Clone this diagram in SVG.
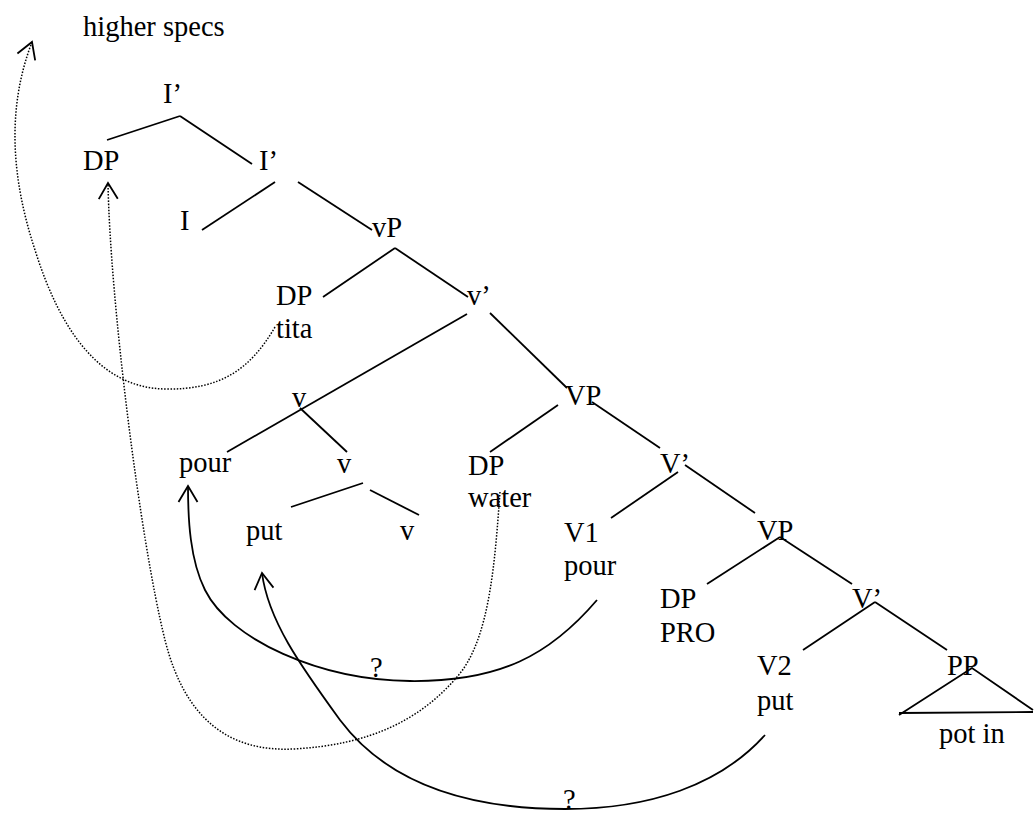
<svg xmlns="http://www.w3.org/2000/svg" width="1034" height="813" viewBox="0 0 1034 813">
<defs>
<style>
text{font-family:"Liberation Serif","Times New Roman",serif;font-size:28.5px;fill:#000}
.e{stroke:#000;stroke-width:1.8;fill:none;stroke-linecap:butt}
.mv{stroke:#000;stroke-width:1.8;fill:none}
.dot{stroke:#000;stroke-width:1.5;fill:none;stroke-dasharray:1.5 1.6}
</style>
<marker id="ah" viewBox="-18 -11 20 22" refX="0" refY="0" markerWidth="20" markerHeight="22" markerUnits="userSpaceOnUse" orient="auto" overflow="visible">
<path d="M -16,-9.5 L 0,0 L -16,9.5" fill="none" stroke="#000" stroke-width="1.8"/>
</marker>
</defs>
<rect width="1034" height="813" fill="#fff"/>
<g id="connectors">
<line class="e" x1="107" y1="140" x2="180" y2="116"/>
<line class="e" x1="180" y1="116" x2="252" y2="164"/>
<line class="e" x1="275" y1="182" x2="202" y2="230"/>
<line class="e" x1="298" y1="182" x2="372" y2="230"/>
<line class="e" x1="395" y1="248" x2="323" y2="297"/>
<line class="e" x1="395" y1="248" x2="468" y2="297"/>
<line class="e" x1="467" y1="314" x2="227" y2="452"/>
<line class="e" x1="490" y1="313" x2="567" y2="388"/>
<line class="e" x1="300" y1="408" x2="347" y2="452"/>
<line class="e" x1="363" y1="483" x2="291" y2="507"/>
<line class="e" x1="370" y1="490" x2="419" y2="515"/>
<line class="e" x1="558" y1="405" x2="490" y2="452"/>
<line class="e" x1="592" y1="402" x2="660" y2="448"/>
<line class="e" x1="678" y1="472" x2="611" y2="518"/>
<line class="e" x1="685" y1="465" x2="755" y2="513"/>
<line class="e" x1="780" y1="537" x2="707" y2="584"/>
<line class="e" x1="780" y1="537" x2="852" y2="584"/>
<line class="e" x1="875" y1="602" x2="803" y2="650"/>
<line class="e" x1="875" y1="602" x2="947" y2="650"/>
<path class="e" d="M 899,715 L 972,668 L 1033,710 M 899,713 L 1033,712"/>
<path class="dot" marker-end="url(#ah)" d="M 275,327 C 250,370 220,390 165,389 C 100,388 60,330 35,250 C 12,180 6,110 32,42"/>
<path class="dot" marker-end="url(#ah)" d="M 500,492 C 495,560 490,640 457,677 C 420,720 370,745 293,749 C 230,752 185,720 165,640 C 140,540 110,300 108,183"/>
<path class="mv" marker-end="url(#ah)" d="M 597,600 C 550,655 500,682 410,681 C 320,680 230,640 205,590 C 190,560 188,520 188,486"/>
<path class="mv" marker-end="url(#ah)" d="M 765,735 C 720,785 650,809 565,809 C 460,809 385,780 340,720 C 300,665 268,620 262,573"/>
</g>
<g id="n-higher"><text x="83" y="36">higher specs</text></g>
<g id="n-Ibar-top"><text x="163" y="103">I’</text></g>
<g id="n-DP-spec"><text x="83" y="170">DP</text></g>
<g id="n-Ibar"><text x="259" y="170">I’</text></g>
<g id="n-I"><text x="180" y="230">I</text></g>
<g id="n-vP"><text x="372" y="237">vP</text></g>
<g id="n-DP-tita"><text x="276" y="305">DP</text><text x="276" y="338">tita</text></g>
<g id="n-vbar"><text x="467" y="305">v’</text></g>
<g id="n-v-complex"><text x="292" y="407">v</text></g>
<g id="n-pour"><text x="179" y="472">pour</text></g>
<g id="n-v-mid"><text x="337" y="473">v</text></g>
<g id="n-put"><text x="246" y="540">put</text></g>
<g id="n-v-low"><text x="400" y="540">v</text></g>
<g id="n-DP-water"><text x="468" y="475">DP</text><text x="468" y="507">water</text></g>
<g id="n-VP1"><text x="565" y="405">VP</text></g>
<g id="n-Vbar1"><text x="660" y="473">V’</text></g>
<g id="n-V1"><text x="564" y="542">V1</text><text x="564" y="575">pour</text></g>
<g id="n-VP2"><text x="757" y="540">VP</text></g>
<g id="n-DP-PRO"><text x="660" y="608">DP</text><text x="660" y="642">PRO</text></g>
<g id="n-Vbar2"><text x="852" y="608">V’</text></g>
<g id="n-V2"><text x="757" y="675">V2</text><text x="757" y="710">put</text></g>
<g id="n-PP"><text x="947" y="675">PP</text><text x="939" y="743">pot in</text></g>
<g id="q1"><text x="370" y="677">?</text></g>
<g id="q2"><text x="563" y="809">?</text></g>
</svg>
